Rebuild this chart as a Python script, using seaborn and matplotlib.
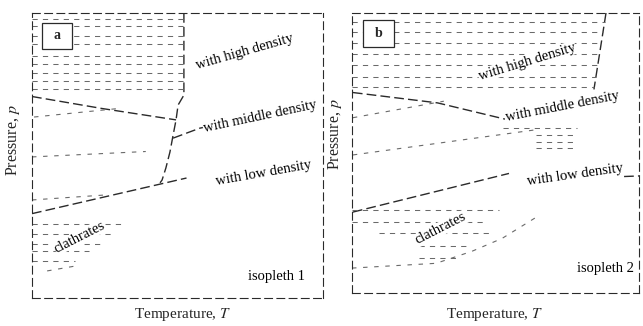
import matplotlib.pyplot as plt
import seaborn as sns
from matplotlib.patches import Rectangle

sns.set_theme(style="white")
plt.rcParams["font.family"] = "serif"
plt.rcParams["font.serif"] = ["Liberation Serif", "DejaVu Serif"]
plt.rcParams["mathtext.fontset"] = "stix"

INK = "#2a2a2a"
GREY = "#6a6a6a"

# ---- panel a (isopleth 1); T and p in arbitrary units 0..100 ----
a_edge_T = [52.2, 52.2, 50.2, 49.5, 48.5, 47.4, 46.0, 44.7, 44.0]
a_edge_p = [100.0, 71.2, 67.7, 62.5, 57.2, 51.2, 45.6, 41.4, 40.4]
a_himid_T = [0.0, 24.0, 49.5]
a_himid_p = [70.7, 66.5, 62.5]
a_mid_T = [48.5, 57.7, 63.0]
a_mid_p = [56.1, 59.6, 60.7]
a_low_T = [0.0, 53.1]
a_low_p = [29.6, 42.1]
a_lowtail_T = [63.6, 69.4]
a_lowtail_p = [42.8, 43.9]
a_faint1_T = [0.0, 39.1]
a_faint1_p = [49.5, 51.4]
a_faint2_T = [0.7, 29.8]
a_faint2_p = [63.5, 66.5]
a_faint3_T = [0.0, 24.5]
a_faint3_p = [34.4, 36.1]
a_clathlow_T = [5.2, 14.8]
a_clathlow_p = [9.5, 11.2]

a_high_hatch_p = [98.0, 95.6, 92.1, 89.1, 84.9, 82.0, 79.0, 76.0, 73.4]
a_high_hatch_T0 = [0.0] * 9
a_high_hatch_T1 = [52.2] * 9
a_clath_hatch_p = [26.0, 22.5, 18.9, 16.5, 13.0]
a_clath_hatch_T0 = [0.0, 0.0, 0.0, 0.0, 0.0]
a_clath_hatch_T1 = [32.0, 27.5, 24.0, 19.6, 14.8]

# ---- panel b (isopleth 2) ----
b_edge_T = [88.5, 84.3]
b_edge_p = [100.0, 72.7]
b_himid_T = [0.3, 29.8, 53.3]
b_himid_p = [71.6, 67.9, 62.1]
b_mid_T = [0.3, 64.1]
b_mid_p = [49.3, 58.3]
b_faint1_T = [0.3, 32.0]
b_faint1_p = [62.6, 68.5]
b_low_T = [0.3, 54.7]
b_low_p = [28.9, 42.7]
b_lowtail_T = [94.8, 100.0]
b_lowtail_p = [41.6, 41.8]
b_clathedge_T = [0.0, 29.3, 41.8, 52.3, 65.2]
b_clathedge_p = [8.9, 10.6, 14.9, 19.5, 27.7]

b_high_hatch_p = [96.8, 93.3, 89.4, 85.5, 81.6, 77.3, 73.4]
b_high_hatch_T0 = [0.0] * 7
b_high_hatch_T1 = [88.1, 87.5, 86.9, 86.3, 85.7, 85.0, 84.4]
b_mid_hatch_p = [58.9, 56.4, 53.9, 51.8]
b_mid_hatch_T0 = [52.6, 64.1, 64.1, 64.1]
b_mid_hatch_T1 = [78.4, 78.4, 78.4, 78.4]
b_clath_hatch_p = [29.8, 25.5, 21.3, 16.7, 12.4]
b_clath_hatch_T0 = [0.0, 0.0, 9.4, 23.3, 23.3]
b_clath_hatch_T1 = [51.2, 47.0, 47.7, 40.8, 37.3]

region_labels = ["with high density", "with middle density", "with low density", "clathrates"]
a_label_T = [73.2, 78.4, 79.7, 16.5]
a_label_p = [86.3, 63.5, 43.9, 21.4]
a_label_rot = [16, 12, 10, 27]
b_label_T = [61.0, 73.2, 77.7, 31.0]
b_label_p = [82.6, 66.7, 42.2, 23.0]
b_label_rot = [17, 11, 8, 27]


def draw_panel(ax, solid, faint, hatches, lab_T, lab_p, lab_rot, isopleth, iso_T, iso_p, box, letter):
    for T, p in solid:
        sns.lineplot(x=T, y=p, ax=ax, color=INK, lw=1.0, sort=False,
                     estimator=None, linestyle=(0, (7, 3)))
    for T, p in faint:
        sns.lineplot(x=T, y=p, ax=ax, color=GREY, lw=0.8, sort=False,
                     estimator=None, linestyle=(0, (4, 6)))
    for p, T0, T1 in hatches:
        ax.hlines(p, T0, T1, color=GREY, lw=0.75, linestyles=(0, (5, 5)))
    for txt, T, p, r in zip(region_labels, lab_T, lab_p, lab_rot):
        ax.text(T, p, txt, rotation=r, ha="center", va="center", fontsize=10.5,
                color="black", bbox=dict(fc="white", ec="none", pad=0.3))
    ax.text(iso_T, iso_p, isopleth, ha="right", va="center", fontsize=10.5, color="black")
    x0, x1, y0, y1 = box
    ax.add_patch(Rectangle((x0, y0), x1 - x0, y1 - y0, fc="white", ec=INK, lw=0.9, zorder=3))
    ax.text((x0 + x1) / 2, (y0 + y1) / 2, letter, ha="center", va="center",
            fontsize=10, fontweight="bold", zorder=4)
    ax.set_xlim(0, 100)
    ax.set_ylim(0, 100)
    ax.set_xticks([])
    ax.set_yticks([])
    for s in ax.spines.values():
        s.set_visible(True)
        s.set_linestyle((0, (7, 4)))
        s.set_color(INK)
        s.set_linewidth(0.8)


fig = plt.figure(figsize=(6.43, 3.26), dpi=100)
ax1 = fig.add_axes([32 / 643, 28 / 326, 291 / 643, 285 / 326])
ax2 = fig.add_axes([352 / 643, 33 / 326, 287 / 643, 280 / 326])

draw_panel(
    ax1,
    solid=[(a_edge_T, a_edge_p), (a_himid_T, a_himid_p), (a_mid_T, a_mid_p),
           (a_low_T, a_low_p), (a_lowtail_T, a_lowtail_p)],
    faint=[(a_faint1_T, a_faint1_p), (a_faint2_T, a_faint2_p),
           (a_faint3_T, a_faint3_p), (a_clathlow_T, a_clathlow_p)],
    hatches=list(zip(a_high_hatch_p, a_high_hatch_T0, a_high_hatch_T1))
    + list(zip(a_clath_hatch_p, a_clath_hatch_T0, a_clath_hatch_T1)),
    lab_T=a_label_T, lab_p=a_label_p, lab_rot=a_label_rot,
    isopleth="isopleth 1", iso_T=93.8, iso_p=7.7,
    box=(3.4, 13.7, 87.4, 96.5), letter="a",
)
draw_panel(
    ax2,
    solid=[(b_edge_T, b_edge_p), (b_himid_T, b_himid_p), (b_low_T, b_low_p),
           (b_lowtail_T, b_lowtail_p)],
    faint=[(b_mid_T, b_mid_p), (b_faint1_T, b_faint1_p), (b_clathedge_T, b_clathedge_p)],
    hatches=list(zip(b_high_hatch_p, b_high_hatch_T0, b_high_hatch_T1))
    + list(zip(b_mid_hatch_p, b_mid_hatch_T0, b_mid_hatch_T1))
    + list(zip(b_clath_hatch_p, b_clath_hatch_T0, b_clath_hatch_T1)),
    lab_T=b_label_T, lab_p=b_label_p, lab_rot=b_label_rot,
    isopleth="isopleth 2", iso_T=98.3, iso_p=8.9,
    box=(3.8, 14.6, 87.9, 97.5), letter="b",
)

for ax, lx, ly, tx, ty in [(ax1, -10 / 291, 0.554, 0.519, -0.028),
                           (ax2, -8 / 287, 0.568, 0.497, -0.045)]:
    ax.set_ylabel("Pressure, $p$", fontsize=11.5)
    ax.set_xlabel("Temperature, $T$", fontsize=11)
    ax.yaxis.set_label_coords(lx, ly)
    ax.xaxis.set_label_coords(tx, ty)

fig.savefig("out.png", dpi=100)
